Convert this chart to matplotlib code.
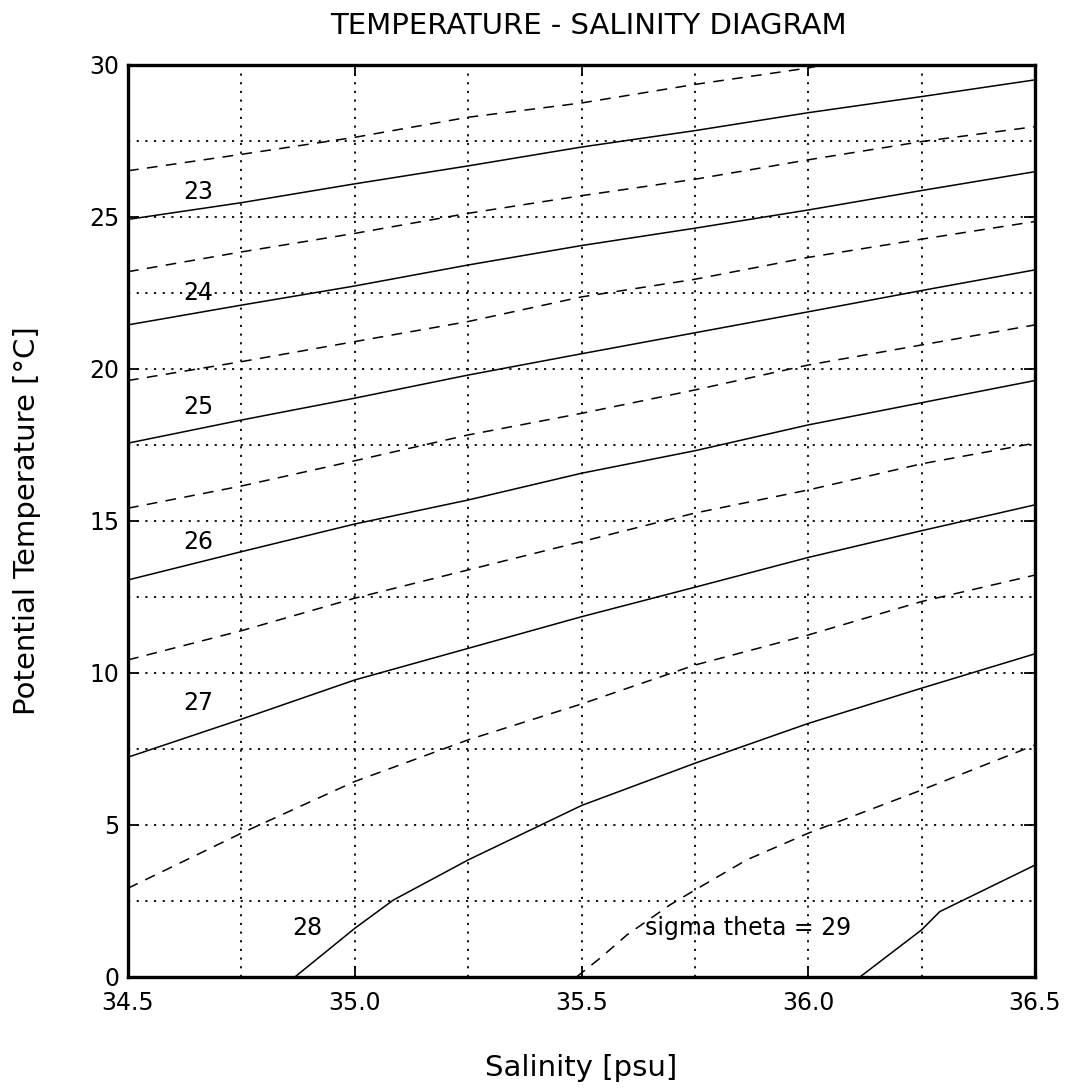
import matplotlib

matplotlib.use("Agg")
import matplotlib.pyplot as plt
from matplotlib.ticker import MultipleLocator

# salinity stations shared by most isopycnals
SAL = [34.5, 34.75, 35.0, 35.25, 35.5, 35.75, 36.0, 36.25, 36.5]

# sigma-theta isolines, potential temperature [degC]
SIG_225_S = [34.5, 34.75, 35.0, 35.25, 35.5, 35.75, 36.0, 36.03]
SIG_225_T = [26.52, 27.06, 27.62, 28.28, 28.75, 29.36, 29.9, 30.0]
SIG_23_T = [24.92, 25.47, 26.09, 26.68, 27.3, 27.84, 28.43, 28.96, 29.51]
SIG_235_T = [23.2, 23.85, 24.46, 25.12, 25.7, 26.24, 26.88, 27.48, 27.97]
SIG_24_T = [21.45, 22.1, 22.73, 23.42, 24.06, 24.63, 25.23, 25.87, 26.49]
SIG_245_T = [19.62, 20.24, 20.9, 21.56, 22.37, 22.95, 23.67, 24.27, 24.85]
SIG_25_T = [17.56, 18.32, 19.04, 19.8, 20.5, 21.19, 21.88, 22.58, 23.26]
SIG_255_T = [15.42, 16.15, 16.98, 17.83, 18.54, 19.31, 20.13, 20.79, 21.45]
SIG_26_T = [13.06, 13.99, 14.9, 15.69, 16.57, 17.31, 18.16, 18.89, 19.62]
SIG_265_T = [10.43, 11.39, 12.46, 13.39, 14.32, 15.26, 16.02, 16.88, 17.56]
SIG_27_T = [7.23, 8.48, 9.77, 10.81, 11.85, 12.82, 13.8, 14.68, 15.53]
SIG_275_T = [2.92, 4.73, 6.43, 7.8, 8.98, 10.26, 11.25, 12.35, 13.22]
SIG_28_S = [34.868, 35.0, 35.085, 35.25, 35.5, 35.75, 36.0, 36.25, 36.5]
SIG_28_T = [0.0, 1.6, 2.53, 3.85, 5.64, 7.03, 8.34, 9.5, 10.63]
SIG_285_S = [35.489, 35.541, 35.6, 35.695, 35.75, 35.864, 36.0, 36.25, 36.5]
SIG_285_T = [0.0, 0.62, 1.38, 2.37, 2.86, 3.85, 4.73, 6.15, 7.63]
SIG_29_S = [36.114, 36.25, 36.29, 36.5]
SIG_29_T = [0.0, 1.55, 2.15, 3.68]

# label text and where it sits (S, T)
LABELS = ["23", "24", "25", "26", "27", "28"]
LABEL_S = [34.655, 34.655, 34.655, 34.655, 34.655, 34.895]
LABEL_T = [25.83, 22.49, 18.76, 14.32, 9.02, 1.6]

solid = [
    (SAL, SIG_23_T),
    (SAL, SIG_24_T),
    (SAL, SIG_25_T),
    (SAL, SIG_26_T),
    (SAL, SIG_27_T),
    (SIG_28_S, SIG_28_T),
    (SIG_29_S, SIG_29_T),
]
dashed = [
    (SIG_225_S, SIG_225_T),
    (SAL, SIG_235_T),
    (SAL, SIG_245_T),
    (SAL, SIG_255_T),
    (SAL, SIG_265_T),
    (SAL, SIG_275_T),
    (SIG_285_S, SIG_285_T),
]

plt.rcParams["font.family"] = ["DejaVu Sans"]

fig = plt.figure(figsize=(10.67, 10.9), dpi=100)
ax = fig.add_axes([0.12, 0.1037, 0.85, 0.8367])

for s, t in solid:
    ax.plot(s, t, color="black", linewidth=1.1)
for s, t in dashed:
    ax.plot(s, t, color="black", linewidth=1.1, dashes=(7, 5.5))

for txt, s, t in zip(LABELS, LABEL_S, LABEL_T):
    ax.text(s, t, txt, fontsize=17, ha="center", va="center")
ax.text(35.64, 1.6, "sigma theta = 29", fontsize=17, ha="left", va="center")

ax.set_xlim(34.5, 36.5)
ax.set_ylim(0, 30)
ax.xaxis.set_major_locator(MultipleLocator(0.5))
ax.xaxis.set_minor_locator(MultipleLocator(0.25))
ax.yaxis.set_major_locator(MultipleLocator(5))
ax.yaxis.set_minor_locator(MultipleLocator(2.5))
ax.xaxis.set_major_formatter(lambda v, pos: f"{v:.1f}")
ax.yaxis.set_major_formatter(lambda v, pos: f"{v:.0f}")

ax.grid(which="both", color="black", linestyle=(0, (1.2, 3.6)), linewidth=1.3)
ax.tick_params(which="major", direction="in", length=8, width=1.3,
               top=True, right=True, labelsize=17)
ax.tick_params(axis="x", which="major", pad=10)
ax.tick_params(axis="y", which="major", pad=6)
ax.tick_params(which="minor", length=0)
for spine in ax.spines.values():
    spine.set_linewidth(2.4)

ax.set_xlabel("Salinity [psu]", fontsize=21, labelpad=28)
ax.set_ylabel("Potential Temperature [°C]", fontsize=21, labelpad=35)
ax.set_title("TEMPERATURE - SALINITY DIAGRAM", fontsize=21, pad=22, x=0.508)

fig.savefig("out.png", dpi=100)
